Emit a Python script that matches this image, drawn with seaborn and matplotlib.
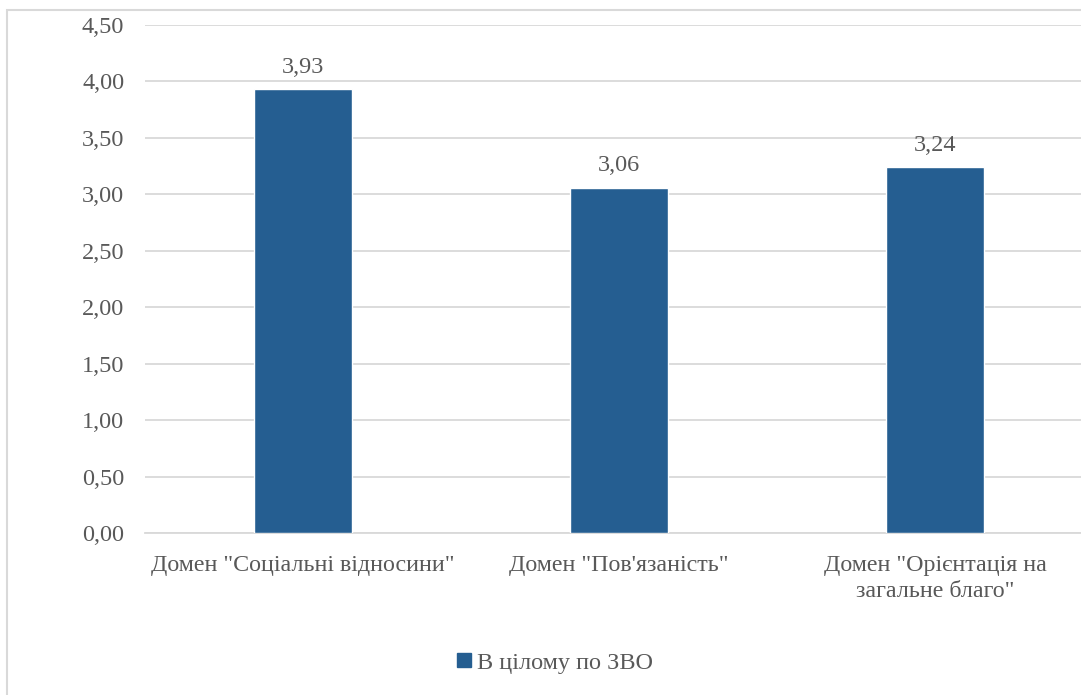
import matplotlib
matplotlib.use('Agg')
import matplotlib.pyplot as plt
import matplotlib.patches as mpatches
import seaborn as sns
import pandas as pd

# Chart data
categories = ['Домен "Соціальні відносини"', 'Домен "Пов\'язаність"',
              'Домен "Орієнтація на\nзагальне благо"']
values = [3.93, 3.06, 3.24]
series_name = 'В цілому по ЗВО'
y_ticks = [0, 0.5, 1.0, 1.5, 2.0, 2.5, 3.0, 3.5, 4.0, 4.5]

bar_color = '#255E91'
text_color = '#595959'
grid_color = '#D9D9D9'

sns.set_theme(style='white')
plt.rcParams['font.family'] = ['Liberation Serif', 'DejaVu Serif']

df = pd.DataFrame({'category': categories, 'value': values})

fig = plt.figure(figsize=(10.81, 6.95), dpi=100)
ax = fig.add_axes([145 / 1081, 1 - 533 / 695, 948 / 1081, (533 - 25) / 695])

sns.barplot(data=df, x='category', y='value', color=bar_color, width=0.313,
            saturation=1, ax=ax, zorder=3)

ax.set_ylim(0, 4.5)
ax.set_yticks(y_ticks)
ax.set_yticklabels([f'{t:.2f}'.replace('.', ',') for t in y_ticks],
                   color=text_color, fontsize=17.5)
ax.set_xticks(range(len(categories)))
ax.set_xticklabels(categories, color=text_color, fontsize=17.3, linespacing=1.3)
ax.tick_params(axis='both', length=0)
ax.tick_params(axis='y', pad=15)
ax.tick_params(axis='x', pad=16)
ax.set_xlabel('')
ax.set_ylabel('')
ax.yaxis.grid(True, color=grid_color, linewidth=1.3, zorder=0)
ax.set_axisbelow(True)
for side in ['top', 'right', 'left']:
    ax.spines[side].set_visible(False)
ax.spines['bottom'].set_color(grid_color)
ax.spines['bottom'].set_linewidth(1.3)

# value labels
for i, v in enumerate(values):
    ax.annotate(f'{v:.2f}'.replace('.', ','), xy=(i, v), xytext=(0, 8),
                textcoords='offset points', ha='center', va='bottom',
                fontsize=17.5, color=text_color)

# legend at the bottom
handle = mpatches.Patch(color=bar_color, label=series_name)
fig.legend(handles=[handle], loc='center', bbox_to_anchor=(555 / 1081, 1 - 663 / 695),
           frameon=False, fontsize=17.5, labelcolor=text_color,
           handlelength=0.55, handleheight=0.55, handletextpad=0.25)

# outer chart border (clipped at right and bottom like the reference)
border = mpatches.Rectangle((7 / 1081, -0.05), 1.1, 1 - 10 / 695 + 0.05,
                            transform=fig.transFigure, fill=False,
                            edgecolor=grid_color, linewidth=1.5)
fig.patches.append(border)

fig.savefig('out.png', dpi=100)
